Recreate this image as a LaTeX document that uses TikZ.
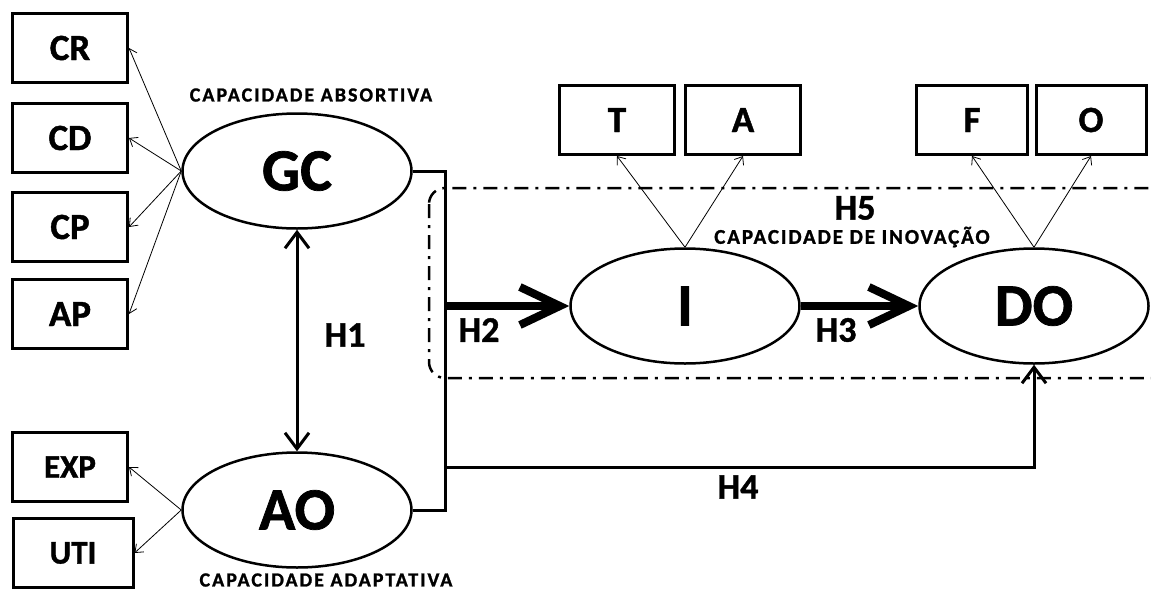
\documentclass[tikz,border=0pt]{standalone}
\usepackage{fontspec}
\setmainfont{Carlito}[BoldFeatures={FakeBold=1.2}]
\usetikzlibrary{arrows.meta,positioning,shapes.geometric}

\begin{document}
\begin{tikzpicture}[x=1pt,y=-1pt,every node/.style={font=\bfseries},
box/.style={draw,line width=3pt,minimum width=115pt,minimum height=69pt,inner sep=0pt,font=\fontsize{37}{37}\selectfont\bfseries},
lat/.style={ellipse,draw,line width=2.5pt,minimum width=229pt,minimum height=115pt,inner sep=0pt,font=\fontsize{60}{60}\selectfont\bfseries},
ind/.style={-{Straight Barb[length=7pt,width=11pt]},line width=0.8pt},
hyp/.style={font=\fontsize{36}{36}\selectfont\bfseries},
lbl/.style={font=\fontsize{20}{20}\selectfont\bfseries\addfontfeatures{LetterSpace=10}},
hbig/.style={-{Straight Barb[length=40pt,width=38pt]},line width=8pt},
hmid/.style={-{Straight Barb[length=16pt,width=24pt]},line width=3pt},
hboth/.style={{Straight Barb[length=16pt,width=24pt]}-{Straight Barb[length=16pt,width=24pt]},line width=3pt}]
\useasboundingbox (0,0) rectangle (1151,592);
% innovation frame
\draw[line width=2.5pt,dash pattern=on 14pt off 7pt on 3pt off 7pt,rounded corners=16pt] (429,188) rectangle (1175,378);
% latent constructs
\node[lat] (GC) at (297,171) {GC};
\node[lat] (AO) at (297,510) {AO};
\node[lat] (I) at (685,306) {I};
\node[lat] (DO) at (1034,306) {DO};
% indicators
\node[box] (CR) at (70,48) {CR};
\node[box] (CD) at (70,138) {CD};
\node[box] (CP) at (70,227) {CP};
\node[box] (AP) at (70,314) {AP};
\node[box,font=\fontsize{33}{33}\selectfont\bfseries] (EXP) at (70,467) {EXP};
\node[box,minimum width=120pt,font=\fontsize{33}{33}\selectfont\bfseries] (UTI) at (73,553) {UTI};
\node[box] (T) at (617,120) {T};
\node[box] (A) at (743,120) {A};
\node[box,minimum width=111pt] (F) at (972,120) {F};
\node[box,minimum width=110pt] (O) at (1091,120) {O};
\foreach \b in {CR,CD,CP,AP}
  \draw[ind] (GC.west) -- (\b.east);
\foreach \b in {EXP,UTI}
  \draw[ind] (AO.west) -- (\b.east);
\draw[ind] (I.north) -- (T.south);
\draw[ind] (I.north) -- (A.south);
\draw[ind] (DO.north) -- (F.south);
\draw[ind] (DO.north) -- (O.south);
% paths
\coordinate (bus) at (445,340);
\coordinate (h4) at (445,467);
\draw[line width=3pt] (GC.east) -| (bus) |- (AO.east);
\draw[hboth] (GC) -- (AO);
\draw[hbig] (bus |- I) -- (I);
\draw[hbig] (I) -- (DO);
\draw[hmid] (h4) -| (DO.south);
% labels
\node[lbl] (absl) at (311,95) {CAPACIDADE ABSORTIVA};
\node[lbl] (adal) at (326,580) {CAPACIDADE ADAPTATIVA};
\node[lbl,font=\fontsize{21}{21}\selectfont\bfseries\addfontfeatures{LetterSpace=9}] (inol) at (852,237) {CAPACIDADE DE INOVAÇÃO};
\node[hyp] (H1) at (345,335) {H1};
\node[hyp] (H2) at (479,330) {H2};
\node[hyp] (H3) at (836,330) {H3};
\node[hyp] (H4) at (738,487) {H4};
\node[hyp] (H5) at (855,208) {H5};
\end{tikzpicture}
\end{document}
